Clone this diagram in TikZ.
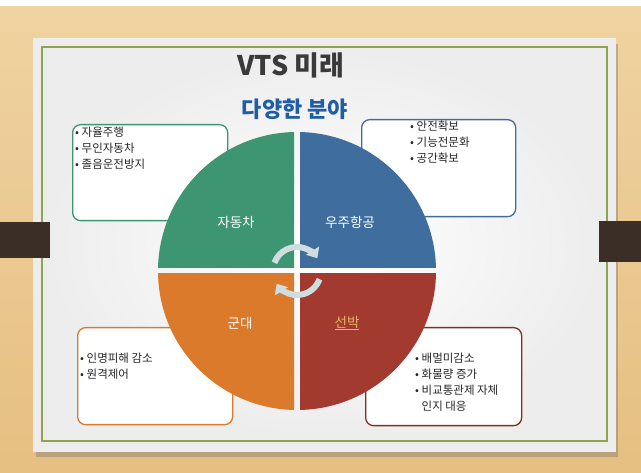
\documentclass[tikz,border=0pt]{standalone}
\usepackage{fontspec}
\setmainfont{Noto Sans CJK KR}
\usetikzlibrary{arrows.meta}
\definecolor{wood}{HTML}{E6BF82}
\definecolor{woodlight}{HTML}{EFD3A0}
\definecolor{slidebg}{HTML}{EDEDED}
\definecolor{frameg}{HTML}{8FA44A}
\definecolor{bar}{HTML}{3A2E27}
\definecolor{qgreen}{HTML}{3D9671}
\definecolor{qblue}{HTML}{3F6E9E}
\definecolor{qorange}{HTML}{DB7A2A}
\definecolor{qred}{HTML}{A33A30}
\definecolor{titlegray}{HTML}{3A3A3A}
\definecolor{subblue}{HTML}{1E5EA6}
\definecolor{gold}{HTML}{E9B765}
\definecolor{cyccol}{HTML}{CFDDE0}
\begin{document}
\begin{tikzpicture}[x=1pt,y=-1pt,
  box/.style={draw=#1, line width=1.3pt, fill=white, rounded corners=8pt, anchor=north west, inner sep=0pt},
  btext/.style={anchor=north west, align=left, inner sep=0pt, font=\fontsize{11.5}{16}\selectfont, text=black!85},
  qlabel/.style={text=white, font=\fontsize{13.5}{15}\selectfont},
  cyc/.style={draw=cyccol, line width=6pt, -{Triangle[width=15pt,length=9pt]}}]
\useasboundingbox (0,0) rectangle (641,473);
\fill[white] (0,0) rectangle (641,473);
\shade[top color=woodlight, bottom color=wood] (0,7) rectangle (641,473);
% slide shadow and slide
\fill[black!55, opacity=0.4] (36,44) rectangle (618,457);
\fill[slidebg] (33,38) rectangle (616,452);
\shade[inner color=white, outer color=slidebg] (45,50) rectangle (604,438);
\draw[frameg, line width=1.2pt] (42,47) rectangle (607,441);
% side bars
\fill[bar] (0,222) rectangle (50,258);
\fill[bar] (599,221) rectangle (641,262);
% titles
\node[text=titlegray, font=\fontsize{27}{30}\bfseries] (title) at (291,65) {VTS 미래};
\node[text=subblue, font=\fontsize{22}{26}\bfseries] (sub) at (295,109) {다양한 분야};
% boxes
\node[box=qgreen, minimum width=155pt, minimum height=96pt] (tl) at (72,124) {};
\node[box=qblue, minimum width=154pt, minimum height=97pt] (tr) at (361,119) {};
\node[box=qorange, minimum width=155pt, minimum height=97pt] (bl) at (77,327) {};
\node[box=qred!80!black, minimum width=156pt, minimum height=98pt] (br) at (365,327) {};
\node[btext] (tlt) at (75,127) {• 자율주행\\• 무인자동차\\• 졸음운전방지};
\node[btext] (trt) at (410,121) {• 안전확보\\• 기능전문화\\• 공간확보};
\node[btext] (blt) at (80,353) {• 인명피해 감소\\• 원격제어};
\node[btext] (brt) at (415,353) {• 배멀미감소\\• 화물량 증가\\• 비교통관제 자체\\\phantom{• }인지 대응};
% circle quadrants
\coordinate (c) at (297,271);
\begin{scope}\clip (0,0) rectangle (294,268); \fill[qgreen] (c) circle (139); \end{scope}
\begin{scope}\clip (300,0) rectangle (641,268); \fill[qblue] (c) circle (139); \end{scope}
\begin{scope}\clip (0,274) rectangle (294,473); \fill[qorange] (c) circle (139); \end{scope}
\begin{scope}\clip (300,274) rectangle (641,473); \fill[qred] (c) circle (139); \end{scope}
\node[qlabel] (q1) at (236,222) {자동차};
\node[qlabel] (q2) at (350,222) {우주항공};
\node[qlabel] (q3) at (240,323) {군대};
\node[qlabel, text=gold] (q4) at (347,323) {\underline{선박}};
% cycle arrows
\draw[cyc] ([shift={(200:24)}]c) arc[start angle=200, end angle=328, radius=24];
\draw[cyc] ([shift={(20:24)}]c) arc[start angle=20, end angle=148, radius=24];
\end{tikzpicture}
\end{document}
